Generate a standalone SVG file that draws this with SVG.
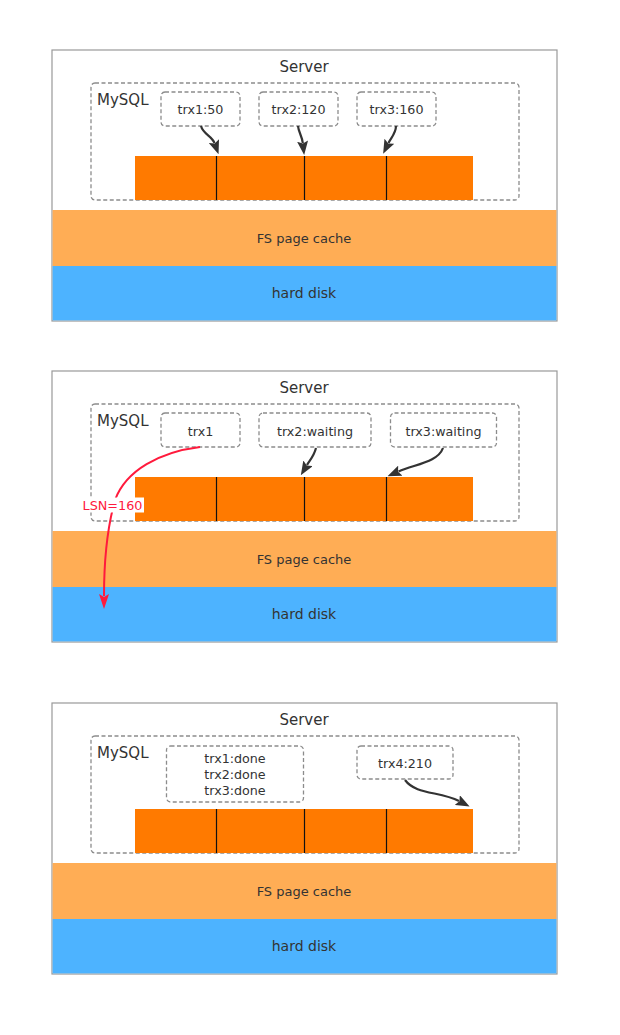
<svg xmlns="http://www.w3.org/2000/svg" width="620" height="1035" viewBox="0 0 620 1035">
<style>
text{font-family:"DejaVu Sans","Liberation Sans",sans-serif;fill:#333;text-anchor:middle}
.panel{fill:#fff;stroke:#999;stroke-width:1.2}
.dash{fill:none;stroke:#8c8c8c;stroke-width:1.3;stroke-dasharray:4 2.5}
.bar{fill:#ff7a00}
.div{stroke:#111;stroke-width:1.2}
.fs{fill:#ffad55}
.hd{fill:#4db3ff}
.t15{font-size:15px}
.t14{font-size:14px}
.t13{font-size:13px}
.t12{font-size:12.7px}
.arr{fill:none;stroke:#333;stroke-width:2.2;marker-end:url(#ah)}
.red{fill:none;stroke:#ff1a3c;stroke-width:2;marker-end:url(#ahr)}
</style>
<defs>
<marker id="ah" markerUnits="userSpaceOnUse" viewBox="0 0 14 11" refX="2" refY="5.5" markerWidth="14" markerHeight="11" orient="auto">
<path d="M0,0 L14,5.5 L0,11 L2.5,5.5 z" fill="#333"/>
</marker>
<marker id="ahr" markerUnits="userSpaceOnUse" viewBox="0 0 15 10" refX="2" refY="5" markerWidth="15" markerHeight="10" orient="auto">
<path d="M0,0 L15,5 L0,10 L3,5 z" fill="#ff1a3c"/>
</marker>
</defs>

<!-- Panel 1 -->
<g id="panel1">
<g id="p1-server"><rect class="panel" x="52" y="50" width="505" height="271"/><text class="t15" x="304" y="72">Server</text></g>
<g id="p1-mysql"><rect class="dash" x="91" y="83" width="428" height="117" rx="4"/><text class="t15" x="97" y="105" style="text-anchor:start">MySQL</text></g>
<g id="p1-buffer"><rect class="bar" x="135" y="156" width="338" height="44"/><line class="div" x1="216.5" y1="156" x2="216.5" y2="200"/><line class="div" x1="304.5" y1="156" x2="304.5" y2="200"/><line class="div" x1="386.5" y1="156" x2="386.5" y2="200"/></g>
<g id="p1-fs"><rect class="fs" x="52.6" y="210" width="503.8" height="56"/><text class="t13" x="304" y="242.5">FS page cache</text></g>
<g id="p1-hd"><rect class="hd" x="52.6" y="266" width="503.8" height="54.4"/><text class="t14" x="304" y="298">hard disk</text></g>
<g id="p1-trx1"><rect class="dash" x="161" y="92" width="79" height="34" rx="4"/><text class="t12" x="200.5" y="113.5">trx1:50</text></g>
<g id="p1-trx2"><rect class="dash" x="259" y="92" width="79" height="34" rx="4"/><text class="t12" x="298.5" y="113.5">trx2:120</text></g>
<g id="p1-trx3"><rect class="dash" x="357" y="92" width="79" height="34" rx="4"/><text class="t12" x="396.5" y="113.5">trx3:160</text></g>
</g>

<!-- Panel 2 -->
<g id="panel2">
<g id="p2-server"><rect class="panel" x="52" y="371" width="505" height="271"/><text class="t15" x="304" y="393">Server</text></g>
<g id="p2-mysql"><rect class="dash" x="91" y="404" width="428" height="117" rx="4"/><text class="t15" x="97" y="426" style="text-anchor:start">MySQL</text></g>
<g id="p2-buffer"><rect class="bar" x="135" y="477" width="338" height="44"/><line class="div" x1="216.5" y1="477" x2="216.5" y2="521"/><line class="div" x1="304.5" y1="477" x2="304.5" y2="521"/><line class="div" x1="386.5" y1="477" x2="386.5" y2="521"/></g>
<g id="p2-fs"><rect class="fs" x="52.6" y="531" width="503.8" height="56"/><text class="t13" x="304" y="563.5">FS page cache</text></g>
<g id="p2-hd"><rect class="hd" x="52.6" y="587" width="503.8" height="54.4"/><text class="t14" x="304" y="619">hard disk</text></g>
<g id="p2-trx1"><rect class="dash" x="161" y="413" width="79" height="34" rx="4"/><text class="t12" x="200.5" y="435.5">trx1</text></g>
<g id="p2-trx2"><rect class="dash" x="259" y="413" width="112" height="34" rx="4"/><text class="t12" x="315" y="435.5">trx2:waiting</text></g>
<g id="p2-trx3"><rect class="dash" x="390.5" y="413" width="106" height="34" rx="4"/><text class="t12" x="443.5" y="435.5">trx3:waiting</text></g>
</g>

<!-- Panel 3 -->
<g id="panel3">
<g id="p3-server"><rect class="panel" x="52" y="703" width="505" height="271"/><text class="t15" x="304" y="725">Server</text></g>
<g id="p3-mysql"><rect class="dash" x="91" y="736" width="428" height="117" rx="4"/><text class="t15" x="97" y="758" style="text-anchor:start">MySQL</text></g>
<g id="p3-buffer"><rect class="bar" x="135" y="809" width="338" height="44"/><line class="div" x1="216.5" y1="809" x2="216.5" y2="853"/><line class="div" x1="304.5" y1="809" x2="304.5" y2="853"/><line class="div" x1="386.5" y1="809" x2="386.5" y2="853"/></g>
<g id="p3-fs"><rect class="fs" x="52.6" y="863" width="503.8" height="56"/><text class="t13" x="304" y="895.5">FS page cache</text></g>
<g id="p3-hd"><rect class="hd" x="52.6" y="919" width="503.8" height="54.4"/><text class="t14" x="304" y="951">hard disk</text></g>
<g id="p3-done"><rect class="dash" x="166.5" y="746" width="137" height="56" rx="4"/><text class="t12" x="235" y="762.5">trx1:done</text><text class="t12" x="235" y="779">trx2:done</text><text class="t12" x="235" y="795">trx3:done</text></g>
<g id="p3-trx4"><rect class="dash" x="357" y="746" width="96" height="33" rx="4"/><text class="t12" x="405" y="767.5">trx4:210</text></g>
</g>

<g id="connectors">
<path class="arr" d="M201,126 C203,134 212,136 214.5,143"/>
<path class="arr" d="M298,126 C298.5,132 302,136 302.8,143"/>
<path class="arr" d="M396,126 C396,133 391,138 388.5,143"/>
<path class="arr" d="M316,448 C314,456 310,460 307,465"/>
<path class="arr" d="M443,448 C438,462 416,464 398.5,471.5"/>
<path class="arr" d="M405,780 C416,795 440,791 459,801"/>
<path class="red" d="M200,447 C160,452 126,470 115,500 C108,525 104,560 104,596"/>
<g id="lsn-label"><rect x="81" y="497.5" width="63" height="15" fill="#fff"/><text x="112.5" y="509.5" style="font-size:12.8px;fill:#ff1a3c">LSN=160</text></g>
</g>
</svg>
